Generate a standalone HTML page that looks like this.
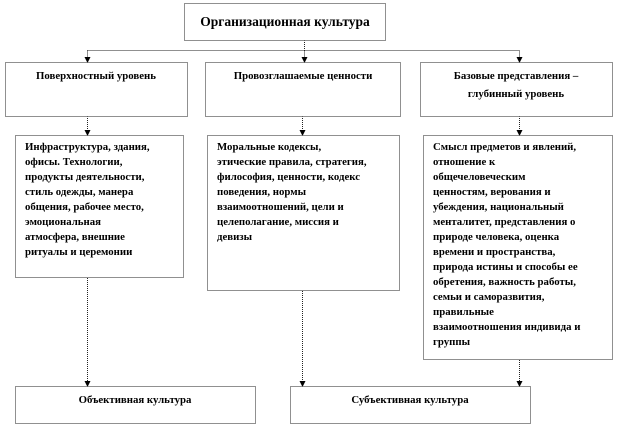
<!DOCTYPE html>
<html><head><meta charset="utf-8"><style>
html,body{margin:0;padding:0;background:#fff}
svg{display:block}
text{font-family:"Liberation Serif",serif;font-weight:bold;fill:#000}
.b{fill:#fff;stroke:#222;stroke-width:1;stroke-dasharray:1 1}
.l{stroke:#222;stroke-width:1;stroke-dasharray:1 1;fill:none}
.t{font-size:10.8px}
</style></head><body>
<svg width="618" height="426" viewBox="0 0 618 426">
<!-- connectors -->
<path class="l" d="M304.5 40 V50.5 M87.5 50.5 H519.5 M87.5 50.5 V58 M304.5 50.5 V58 M519.5 50.5 V58
M87.5 116 V131 M302.5 116 V131 M519.5 116 V131
M87.5 278 V382 M302.5 291 V382 M519.5 360 V382"/>
<g fill="#000">
<path d="M84.5 57 H90.5 L87.5 63 z"/>
<path d="M301.5 57 H307.5 L304.5 63 z"/>
<path d="M516.5 57 H522.5 L519.5 63 z"/>
<path d="M84.5 130 H90.5 L87.5 136 z"/>
<path d="M299.5 130 H305.5 L302.5 136 z"/>
<path d="M516.5 130 H522.5 L519.5 136 z"/>
<path d="M84.5 381 H90.5 L87.5 387 z"/>
<path d="M299.5 381 H305.5 L302.5 387 z"/>
<path d="M516.5 381 H522.5 L519.5 387 z"/>
</g>
<!-- boxes -->
<rect class="b" x="184.5" y="3.5" width="201" height="37"/>
<text x="285" y="26" font-size="13.5" text-anchor="middle">Организационная культура</text>
<rect class="b" x="5.5" y="62.5" width="182" height="54"/>
<rect class="b" x="205.5" y="62.5" width="195" height="54"/>
<rect class="b" x="420.5" y="62.5" width="192" height="54"/>
<text class="t" x="96" y="79" text-anchor="middle">Поверхностный уровень</text>
<text class="t" x="303" y="79" text-anchor="middle">Провозглашаемые ценности</text>
<text class="t" x="516" y="79" text-anchor="middle">Базовые представления –</text>
<text class="t" x="516" y="97" text-anchor="middle">глубинный уровень</text>
<rect class="b" x="15.5" y="135.5" width="168" height="142"/>
<rect class="b" x="207.5" y="135.5" width="192" height="155"/>
<rect class="b" x="423.5" y="135.5" width="189" height="224"/>
<g class="t">
<text x="25" y="150">Инфраструктура, здания,</text>
<text x="25" y="165">офисы. Технологии,</text>
<text x="25" y="180">продукты деятельности,</text>
<text x="25" y="195">стиль одежды, манера</text>
<text x="25" y="210">общения, рабочее место,</text>
<text x="25" y="225">эмоциональная</text>
<text x="25" y="240">атмосфера, внешние</text>
<text x="25" y="255">ритуалы и церемонии</text>
<text x="217" y="150">Моральные кодексы,</text>
<text x="217" y="165">этические правила, стратегия,</text>
<text x="217" y="180">философия, ценности, кодекс</text>
<text x="217" y="195">поведения, нормы</text>
<text x="217" y="210">взаимоотношений, цели и</text>
<text x="217" y="225">целеполагание, миссия и</text>
<text x="217" y="240">девизы</text>
<text x="433" y="150">Смысл предметов и явлений,</text>
<text x="433" y="165">отношение к</text>
<text x="433" y="180">общечеловеческим</text>
<text x="433" y="195">ценностям, верования и</text>
<text x="433" y="210">убеждения, национальный</text>
<text x="433" y="225">менталитет, представления о</text>
<text x="433" y="240">природе человека, оценка</text>
<text x="433" y="255">времени и пространства,</text>
<text x="433" y="270">природа истины и способы ее</text>
<text x="433" y="285">обретения, важность работы,</text>
<text x="433" y="300">семьи и саморазвития,</text>
<text x="433" y="315">правильные</text>
<text x="433" y="330">взаимоотношения индивида и</text>
<text x="433" y="345">группы</text>
</g>
<rect class="b" x="15.5" y="386.5" width="240" height="37"/>
<rect class="b" x="290.5" y="386.5" width="240" height="37"/>
<text class="t" x="135" y="403" text-anchor="middle">Объективная культура</text>
<text class="t" x="410" y="403" text-anchor="middle">Субъективная культура</text>
</svg>
</body></html>
